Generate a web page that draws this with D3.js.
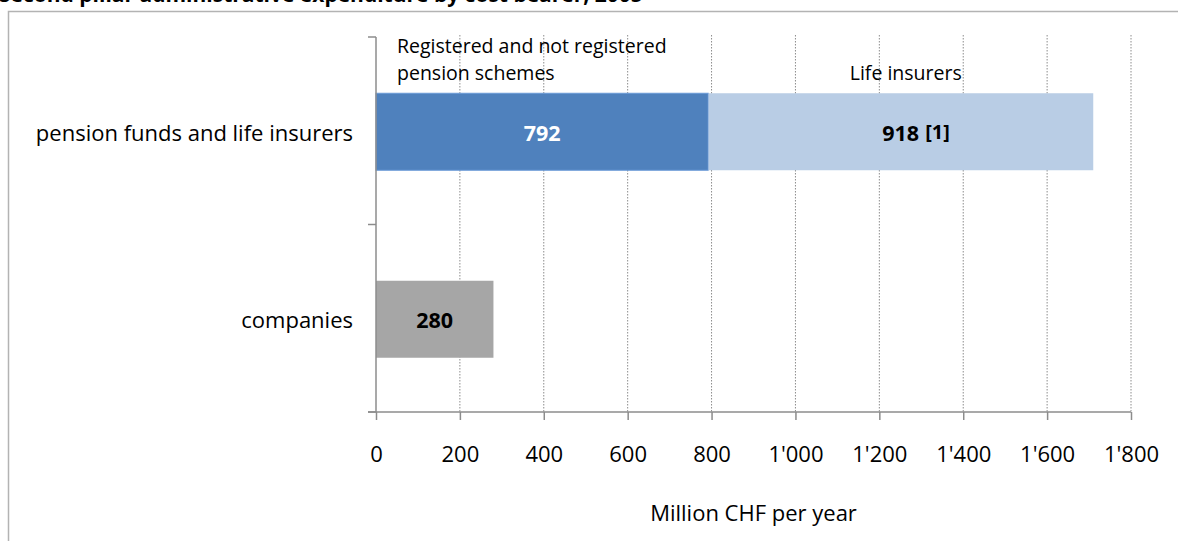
<!DOCTYPE html>
<meta charset="utf-8">
<style>
body { margin: 0; background: #fff; }
svg text { font-family: "Open Sans", sans-serif; fill: #000; }
.grid line { stroke: #8c8c8c; stroke-dasharray: 1.5,1.5; }
.axis path, .axis line { stroke: #8c8c8c; stroke-width: 1.5; }
</style>
<body>
<script src="https://cdn.jsdelivr.net/npm/d3@7"></script>
<script>
// data
var categories = ["pension funds and life insurers", "companies"];
var registered = [792, 0];
var lifeInsurers = [918, 0];
var companies = [0, 280];
var xTicks = [0, 200, 400, 600, 800, 1000, 1200, 1400, 1600, 1800];

var W = 1178, H = 541;
var margin = {top: 37, right: 47, bottom: 129, left: 376};
var width = W - margin.left - margin.right,
    height = H - margin.top - margin.bottom;

var svg = d3.select("body").append("svg")
    .attr("width", W)
    .attr("height", H);

// title, mostly cut off at the top of the picture
svg.append("text")
    .attr("x", -1)
    .attr("y", 2)
    .style("font-weight", "bold")
    .style("font-size", "21px")
    .text("Second pillar administrative expenditure by cost bearer, 2005");

// outer frame (only top and left edges are visible)
svg.append("path")
    .attr("d", "M8.5," + H + "V11.5H" + W)
    .attr("fill", "none")
    .attr("stroke", "#b3b3b3")
    .attr("stroke-width", 1.5);

var g = svg.append("g")
    .attr("transform", "translate(" + margin.left + "," + margin.top + ")");

var x = d3.scaleLinear().domain([0, 1800]).range([0, width]);
var y = d3.scaleBand().domain(categories).range([0, height]);
var barH = 77;

// dotted gridlines
g.append("g").attr("class", "grid")
  .selectAll("line")
  .data(xTicks.slice(1))
  .enter().append("line")
    .attr("x1", function(d) { return x(d); })
    .attr("x2", function(d) { return x(d); })
    .attr("y1", -2)
    .attr("y2", height);

var rows = categories.map(function(c, i) {
  return {cat: c, reg: registered[i], life: lifeInsurers[i], comp: companies[i]};
});

function mid(d) { return y(d.cat) + y.bandwidth() / 2 + 1; }
function barY(d) { return mid(d) - barH / 2; }

// registered schemes
g.selectAll(".reg").data(rows.filter(function(d) { return d.reg > 0; }))
  .enter().append("rect")
    .attr("x", x(0))
    .attr("y", barY)
    .attr("width", function(d) { return x(d.reg) - x(0); })
    .attr("height", barH)
    .attr("fill", "#4f81bd")
    .attr("stroke", "#6b9ad8")
    .attr("stroke-width", 1);

// life insurers stacked after it
g.selectAll(".life").data(rows.filter(function(d) { return d.life > 0; }))
  .enter().append("rect")
    .attr("x", function(d) { return x(d.reg) + 0.5; })
    .attr("y", barY)
    .attr("width", function(d) { return x(d.reg + d.life) - x(d.reg) - 0.5; })
    .attr("height", barH)
    .attr("fill", "#b9cde5");

// companies
g.selectAll(".comp").data(rows.filter(function(d) { return d.comp > 0; }))
  .enter().append("rect")
    .attr("x", x(0))
    .attr("y", barY)
    .attr("width", function(d) { return x(d.comp) - x(0); })
    .attr("height", barH)
    .attr("fill", "#a6a6a6");

// value labels
var lab = g.append("g")
    .style("font-weight", "bold")
    .style("font-size", "21.5px");

rows.forEach(function(d) {
  var cy = mid(d) + 9;
  if (d.reg > 0) {
    lab.append("text").attr("x", x(d.reg / 2)).attr("y", cy)
      .attr("text-anchor", "middle")
      .style("fill", "#fff").text(d.reg);
  }
  if (d.life > 0) {
    var cx = x(d.reg + d.life / 2);
    var t = lab.append("text").attr("x", cx).attr("y", cy)
      .attr("text-anchor", "middle").text(d.life);
    var w = t.node().getComputedTextLength();
    lab.append("text").attr("x", cx + w / 2 + 6).attr("y", cy - 2)
      .style("font-size", "20px").text("[1]");
  }
  if (d.comp > 0) {
    lab.append("text").attr("x", x(d.comp / 2)).attr("y", cy)
      .attr("text-anchor", "middle").text(d.comp);
  }
});

// series names above the top bar
var topY = barY(rows[0]);
var names = g.append("g").style("font-size", "19.5px");
names.append("text").attr("x", 21).attr("y", topY - 40)
    .text("Registered and not registered");
names.append("text").attr("x", 21).attr("y", topY - 13)
    .text("pension schemes");
names.append("text")
    .attr("x", x(registered[0] + lifeInsurers[0] / 2) + 5).attr("y", topY - 13)
    .attr("text-anchor", "middle")
    .text("Life insurers");

// x axis
var fmt = function(d) { return d3.format(",")(d).replace(/,/g, "'"); };
var xAxis = g.append("g")
    .attr("class", "axis")
    .attr("transform", "translate(0," + height + ")")
    .call(d3.axisBottom(x).tickValues(xTicks).tickFormat(fmt).tickSizeOuter(0).tickSize(8));
xAxis.select(".domain").attr("d", "M-8,0H" + width);
xAxis.selectAll("text").style("font-size", "22px").attr("y", 50).attr("dy", 0);

// y axis
var yAxis = g.append("g").attr("class", "axis");
yAxis.append("line").attr("x1", 0).attr("x2", 0).attr("y1", 0).attr("y2", height);
yAxis.selectAll(".yt").data([0, y.bandwidth(), height]).enter().append("line")
    .attr("x1", -8).attr("x2", 0)
    .attr("y1", function(d) { return d; }).attr("y2", function(d) { return d; });

g.append("g")
    .selectAll("text").data(rows).enter().append("text")
    .attr("x", -23)
    .attr("y", function(d) { return mid(d) + 9; })
    .attr("text-anchor", "end")
    .style("font-size", "22px")
    .text(function(d) { return d.cat; });

// axis title
g.append("text")
    .attr("x", width / 2)
    .attr("y", height + 109)
    .attr("text-anchor", "middle")
    .style("font-size", "22px")
    .text("Million CHF per year");
</script>
</body>
